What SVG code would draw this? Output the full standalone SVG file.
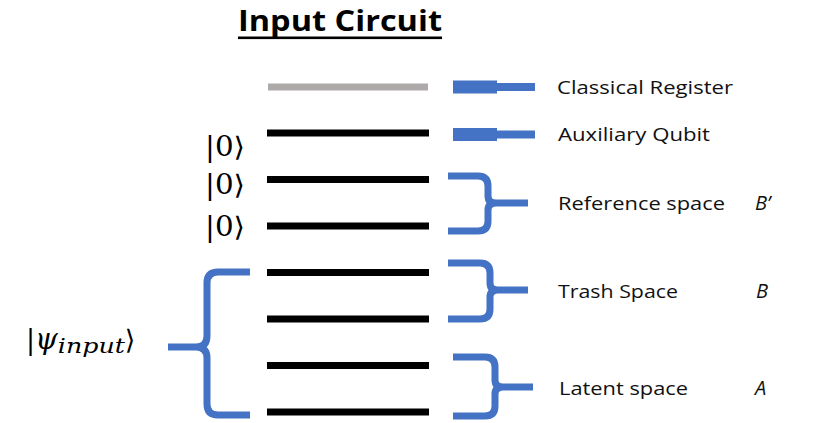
<svg xmlns="http://www.w3.org/2000/svg" width="825" height="423" viewBox="0 0 825 423">
  <style>
    .title { font-family: "Open Sans", "Liberation Sans", sans-serif; font-weight: bold; font-size: 29px; fill: #000; }
    .lbl { font-family: "Open Sans", "Liberation Sans", sans-serif; font-size: 19px; fill: #111; }
    .sym { font-family: "Open Sans", "Liberation Sans", sans-serif; font-style: italic; font-size: 20px; fill: #111; }
    .ket { font-family: "DejaVu Serif", "Liberation Serif", serif; font-size: 27px; fill: #000; }
    .wire { stroke: #000; stroke-width: 7; }
    .creg { stroke: #aeaaaa; stroke-width: 7; }
    .brace { fill: none; stroke: #4472c4; stroke-width: 7; stroke-linejoin: round; }
    .bar { fill: #4472c4; }
  </style>

  <!-- heading -->
  <g id="title">
    <text class="title" x="238" y="31" textLength="204" lengthAdjust="spacingAndGlyphs">Input Circuit</text>
    <rect x="238" y="36.5" width="204" height="2.6" fill="#000"/>
  </g>

  <!-- circuit wires -->
  <g id="wires">
    <line class="creg" x1="268" y1="87" x2="428" y2="87"/>
    <line class="wire" x1="267" y1="133" x2="429" y2="133"/>
    <line class="wire" x1="267" y1="179.5" x2="429" y2="179.5"/>
    <line class="wire" x1="267" y1="226" x2="429" y2="226"/>
    <line class="wire" x1="267" y1="272.5" x2="429" y2="272.5"/>
    <line class="wire" x1="267" y1="319" x2="429" y2="319"/>
    <line class="wire" x1="267" y1="365.5" x2="429" y2="365.5"/>
    <line class="wire" x1="267" y1="412" x2="429" y2="412"/>
  </g>

  <!-- initial states -->
  <g id="kets">
    <text class="ket" x="205" y="156" textLength="40" lengthAdjust="spacingAndGlyphs">|0⟩</text>
    <text class="ket" x="205" y="194" textLength="40" lengthAdjust="spacingAndGlyphs">|0⟩</text>
    <text class="ket" x="205" y="236" textLength="40" lengthAdjust="spacingAndGlyphs">|0⟩</text>
  </g>

  <g id="psi-input">
    <text class="ket" x="26" y="349">|<tspan font-style="italic" font-size="29">ψ</tspan><tspan font-style="italic" font-size="21" dy="4" textLength="67" lengthAdjust="spacingAndGlyphs">input</tspan><tspan dy="-4">⟩</tspan></text>
  </g>

  <!-- connectors: pointers and braces -->
  <g id="connectors">
    <path class="bar" d="M453,80.5 H497 V83 H535 V91 H497 V93.5 H453 Z"/>
    <path class="bar" d="M453,128 H497 V130.5 H535 V138.5 H497 V141 H453 Z"/>

    <path class="brace" d="M448,176 H478 Q488,176 488,186 V196 Q488,203 496,203 H528 M448,231 H478 Q488,231 488,221 V210 Q488,203 496,203"/>
    <path class="brace" d="M448,263 H480 Q490,263 490,273 V283 Q490,290 498,290 H528 M448,319 H480 Q490,319 490,309 V297 Q490,290 498,290"/>
    <path class="brace" d="M453,357 H485 Q495,357 495,367 V380 Q495,387 503,387 H533 M453,416 H485 Q495,416 495,406 V394 Q495,387 503,387"/>

    <path class="brace" d="M250,272 H218 Q207,272 207,283 V336 Q207,347 196,347 H168 M250,415 H218 Q207,415 207,404 V358 Q207,347 196,347"/>
  </g>

  <!-- labels -->
  <g id="label-classical">
    <text class="lbl" x="557" y="94" textLength="176" lengthAdjust="spacingAndGlyphs">Classical Register</text>
  </g>
  <g id="label-auxiliary">
    <text class="lbl" x="558" y="141" textLength="152" lengthAdjust="spacingAndGlyphs">Auxiliary Qubit</text>
  </g>
  <g id="label-reference">
    <text class="lbl" x="558" y="210" textLength="167" lengthAdjust="spacingAndGlyphs">Reference space</text>
    <text class="sym" x="755" y="210">B’</text>
  </g>
  <g id="label-trash">
    <text class="lbl" x="558" y="298" textLength="120" lengthAdjust="spacingAndGlyphs">Trash Space</text>
    <text class="sym" x="756" y="298">B</text>
  </g>
  <g id="label-latent">
    <text class="lbl" x="559" y="395" textLength="129" lengthAdjust="spacingAndGlyphs">Latent space</text>
    <text class="sym" x="755" y="395">A</text>
  </g>
</svg>
